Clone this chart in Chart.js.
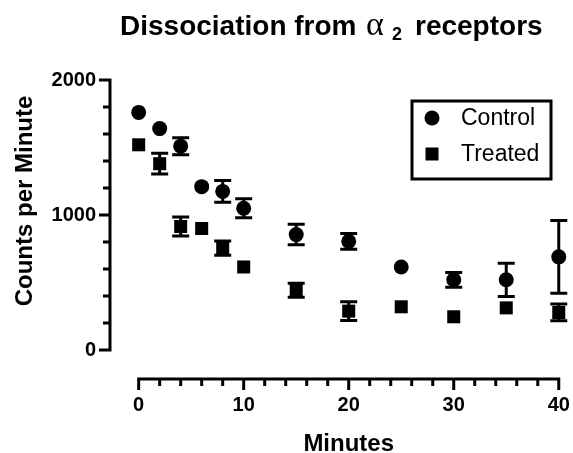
<!DOCTYPE html>
<html>
<head>
<meta charset="utf-8">
<script src="https://cdn.jsdelivr.net/npm/chart.js@4.4.0/dist/chart.umd.min.js"></script>
<style>
  html, body { margin: 0; padding: 0; background: #fff; }
  #wrap { position: relative; width: 573px; height: 453px; }
</style>
</head>
<body>
<div id="wrap"><canvas id="dissociacao" width="573" height="453"></canvas></div>
<script>
// ===== dados =====
const minutes    = [0, 2, 4, 6, 8, 10, 15, 20, 25, 30, 35, 40];
const control    = [1760, 1640, 1510, 1210, 1175, 1050, 855, 805, 615, 520, 520, 690];
const controlErr = [0, 0, 63, 0, 80, 70, 76, 58, 0, 55, 123, 270];
const treated    = [1520, 1380, 915, 900, 755, 615, 443, 288, 320, 246, 312, 278];
const treatedErr = [0, 77, 70, 0, 53, 0, 52, 70, 0, 0, 0, 62];

const xTicks = [0, 10, 20, 30, 40];
const xMinorTicks = [0, 2, 4, 6, 8, 10, 12, 14, 16, 18, 20, 22, 24, 26, 28, 30, 32, 34, 36, 38, 40];
const yTicks = [0, 1000, 2000];
const yMinorTicks = [0, 200, 400, 600, 800, 1000, 1200, 1400, 1600, 1800, 2000];

const FONT = '"Liberation Sans", Arial, Helvetica, sans-serif';

// barras de erro (SEM) desenhadas com as escalas do Chart.js
const errorBars = {
  id: 'errorBars',
  afterDatasetsDraw(chart) {
    const ctx = chart.ctx;
    const xs = chart.scales.x, ys = chart.scales.y;
    const series = [[control, controlErr], [treated, treatedErr]];
    ctx.save();
    ctx.strokeStyle = '#000';
    ctx.lineWidth = 3;
    series.forEach(([vals, errs]) => {
      vals.forEach((v, i) => {
        if (!errs[i]) return;
        const x = xs.getPixelForValue(minutes[i]);
        const yHi = ys.getPixelForValue(v + errs[i]);
        const yLo = ys.getPixelForValue(v - errs[i]);
        ctx.beginPath();
        ctx.moveTo(x, yHi); ctx.lineTo(x, yLo);
        ctx.moveTo(x - 8.5, yHi); ctx.lineTo(x + 8.5, yHi);
        ctx.moveTo(x - 8.5, yLo); ctx.lineTo(x + 8.5, yLo);
        ctx.stroke();
      });
    });
    ctx.restore();
  }
};

// eixos no estilo Prism (eixo X destacado abaixo), títulos e legenda
const decoracao = {
  id: 'decoracao',
  afterDraw(chart) {
    const ctx = chart.ctx;
    const xs = chart.scales.x, ys = chart.scales.y;
    const area = chart.chartArea;
    ctx.save();
    ctx.strokeStyle = '#000';
    ctx.fillStyle = '#000';
    ctx.lineWidth = 3;

    // eixo Y
    const ax = area.left;
    ctx.beginPath();
    ctx.moveTo(ax, ys.getPixelForValue(0) + 1.5);
    ctx.lineTo(ax, ys.getPixelForValue(2000) - 1.5);
    yMinorTicks.forEach(v => {
      const y = ys.getPixelForValue(v);
      const len = yTicks.includes(v) ? 11 : 7;
      ctx.moveTo(ax, y); ctx.lineTo(ax - len, y);
    });
    ctx.stroke();

    // eixo X (separado do gráfico)
    const ay = 379;
    ctx.beginPath();
    ctx.moveTo(xs.getPixelForValue(0) - 1.5, ay);
    ctx.lineTo(xs.getPixelForValue(40) + 1.5, ay);
    xMinorTicks.forEach(v => {
      const x = xs.getPixelForValue(v);
      const len = xTicks.includes(v) ? 11 : 7;
      ctx.moveTo(x, ay); ctx.lineTo(x, ay + len);
    });
    ctx.stroke();

    // título
    ctx.textBaseline = 'alphabetic';
    ctx.textAlign = 'left';
    ctx.font = 'bold 28px ' + FONT;
    ctx.fillText('Dissociation from', 120, 35);
    ctx.font = '34px "Liberation Serif", "Times New Roman", serif';
    ctx.fillText('α', 366, 35);
    ctx.font = 'bold 18px ' + FONT;
    ctx.fillText('2', 392, 40);
    ctx.font = 'bold 28px ' + FONT;
    ctx.fillText('receptors', 415, 35);

    // títulos dos eixos
    ctx.font = 'bold 24px ' + FONT;
    ctx.textAlign = 'center';
    ctx.fillText('Minutes', xs.getPixelForValue(20), 451);
    ctx.save();
    ctx.translate(32, 201);
    ctx.rotate(-Math.PI / 2);
    ctx.fillText('Counts per Minute', 0, 0);
    ctx.restore();

    // legenda
    ctx.strokeRect(412, 101, 139, 78);
    ctx.beginPath();
    ctx.arc(432, 118, 7.5, 0, Math.PI * 2);
    ctx.fill();
    ctx.fillRect(432 - 6.5, 154 - 6.5, 13, 13);
    ctx.font = '23px ' + FONT;
    ctx.textAlign = 'left';
    ctx.textBaseline = 'middle';
    ctx.fillText('Control', 461, 119);
    ctx.fillText('Treated', 461, 155);
    ctx.restore();
  }
};

function criarGrafico() {
  const ctx = document.getElementById('dissociacao');
  new Chart(ctx, {
    type: 'scatter',
    data: {
      datasets: [{
        label: 'Control',
        data: minutes.map((m, i) => ({ x: m, y: control[i] })),
        pointStyle: 'circle',
        pointRadius: 7.5,
        pointHoverRadius: 7.5,
        backgroundColor: '#000',
        borderWidth: 0,
        clip: false
      }, {
        label: 'Treated',
        data: minutes.map((m, i) => ({ x: m, y: treated[i] })),
        pointStyle: 'rect',
        pointRadius: 9.2,
        pointHoverRadius: 9.2,
        backgroundColor: '#000',
        borderWidth: 0,
        clip: false
      }]
    },
    options: {
      responsive: false,
      animation: false,
      devicePixelRatio: 1,
      layout: { padding: { top: 80, left: 2, right: 3, bottom: 0 } },
      plugins: { legend: { display: false }, title: { display: false }, tooltip: { enabled: false } },
      scales: {
        x: {
          type: 'linear',
          min: -2.73,
          max: 40.48,
          grid: { display: false, drawTicks: false },
          border: { display: false },
          afterBuildTicks: s => { s.ticks = xTicks.map(v => ({ value: v })); },
          afterFit: s => { s.height = 103; s.paddingLeft = 0; s.paddingRight = 0; },
          ticks: {
            color: '#000', padding: 43,
            font: { family: FONT, size: 20, weight: 'bold' },
            callback: v => String(v)
          }
        },
        y: {
          min: 0,
          max: 2000,
          grid: { display: false, drawTicks: false },
          border: { display: false },
          afterBuildTicks: s => { s.ticks = yTicks.map(v => ({ value: v })); },
          afterFit: s => { s.width = 108; s.paddingTop = 0; s.paddingBottom = 0; },
          ticks: {
            color: '#000', padding: 14,
            font: { family: FONT, size: 20, weight: 'bold' },
            callback: v => String(v)
          }
        }
      }
    },
    plugins: [errorBars, decoracao]
  });
}

criarGrafico();
</script>
</body>
</html>
